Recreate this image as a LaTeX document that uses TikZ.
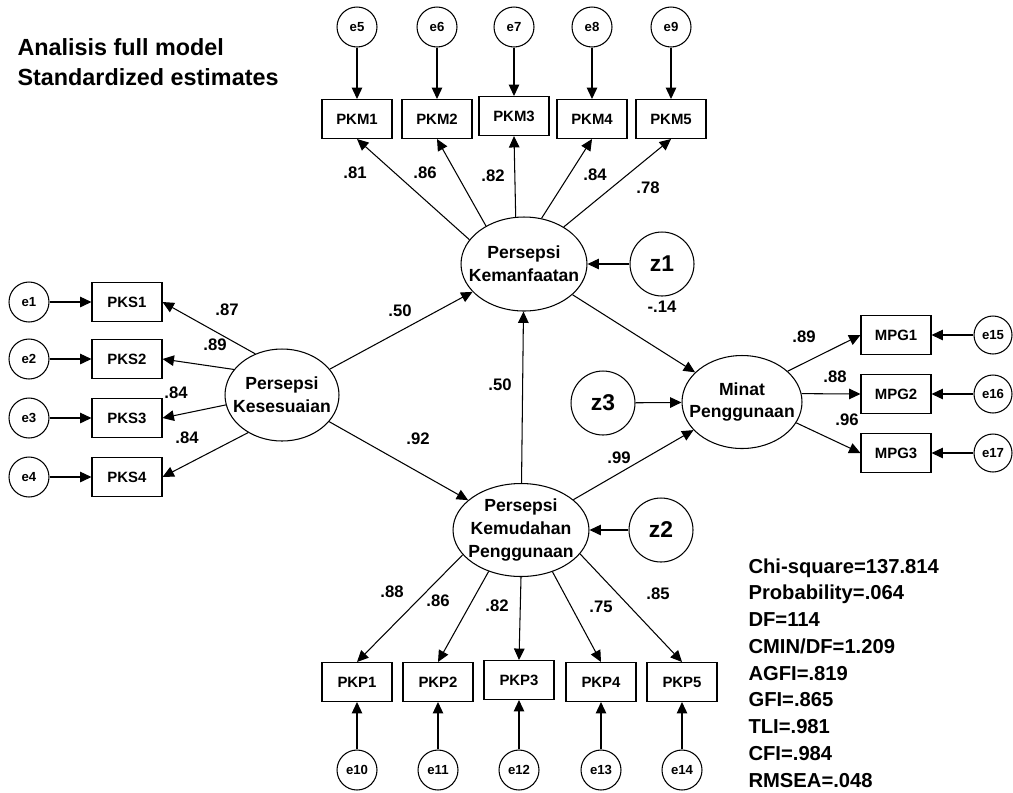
\documentclass[tikz,border=0pt]{standalone}
\usepackage{fontspec}
\setmainfont{Liberation Sans}
\usetikzlibrary{arrows.meta,shapes.geometric}

\begin{document}
\begin{tikzpicture}[x=0.02cm, y=-0.02cm, >={Triangle[length=6.5pt,width=6pt]}, line width=0.6pt,
  obs/.style={draw, minimum width=1.4cm, minimum height=0.78cm, inner sep=0pt, font=\bfseries\fontsize{8.5}{10}\selectfont},
  lat/.style={draw, ellipse, inner sep=0pt},
  lattext/.style={align=center, font=\bfseries\fontsize{10}{13}\selectfont},
  err/.style={draw, circle, minimum size=0.8cm, inner sep=0pt, font=\bfseries\fontsize{7.5}{9}\selectfont},
  dist/.style={draw, circle, minimum size=1.28cm, inner sep=0pt, font=\bfseries\fontsize{13}{15}\selectfont},
  est/.style={inner sep=0pt, font=\bfseries\fontsize{9.5}{11}\selectfont}]

\useasboundingbox (0,0) rectangle (1013,792);

% title
\node[anchor=base west, inner sep=0pt, font=\bfseries\fontsize{13.3}{16}\selectfont] (title1) at (17,55) {Analisis full model};
\node[anchor=base west, inner sep=0pt, font=\bfseries\fontsize{13.3}{16}\selectfont] (title2) at (17,85) {Standardized estimates};

% latent variables
\node[lat, minimum width=2.52cm, minimum height=1.88cm, label={[lattext]center:Persepsi\\Kemanfaatan}] (pkm) at (524,264) {};
\node[lat, minimum width=2.28cm, minimum height=1.84cm, label={[lattext]center:Persepsi\\Kesesuaian}] (pks) at (282,395) {};
\node[lat, minimum width=2.4cm, minimum height=1.86cm, label={[lattext]center:Minat\\Penggunaan}] (mpg) at (742,402) {};
\node[lat, minimum width=2.72cm, minimum height=1.86cm, label={[lattext]center:Persepsi\\Kemudahan\\Penggunaan}] (pkp) at (521,530) {};

% disturbances
\node[dist] (z1) at (662,264) {z1};
\node[dist] (z2) at (661,530) {z2};
\node[dist] (z3) at (603,403) {z3};

% indicators of Persepsi Kemanfaatan
\foreach \i/\x/\y/\a [evaluate=\i as \e using int(\i+4)] in {1/357/119/156, 2/437/119/135, 3/514/116/100, 4/592/119/69, 5/671/119/43} {
  \node[obs] (pkm\i) at (\x,\y) {PKM\i};
  \node[err] (e\e) at (\x,27) {e\e};
  \draw[->] (e\e) -- (pkm\i);
  \draw[->] (pkm.\a) -- (pkm\i.south);
}

% indicators of Persepsi Kesesuaian
\foreach \i/\y/\a in {1/302/123, 2/359/152, 3/418/190, 4/477/228} {
  \node[obs] (pks\i) at (127,\y) {PKS\i};
  \node[err] (e\i) at (29,\y) {e\i};
  \draw[->] (e\i) -- (pks\i);
  \draw[->] (pks.\a) -- (pks\i.east);
}

% indicators of Minat Penggunaan
\foreach \i/\y/\a [evaluate=\i as \e using int(\i+14)] in {1/335/34, 2/394/8, 3/453/339} {
  \node[obs] (mpg\i) at (896,\y) {MPG\i};
  \node[err, minimum size=0.76cm] (e\e) at (993,\y) {e\e};
  \draw[->] (e\e) -- (mpg\i);
  \draw[->] (mpg.\a) -- (mpg\i.west);
}

% indicators of Persepsi Kemudahan Penggunaan
\foreach \i/\x/\y/\a [evaluate=\i as \e using int(\i+9)] in {1/357/682/203, 2/438/682/232, 3/519/680/270, 4/601/682/307, 5/682/682/338} {
  \node[obs] (pkp\i) at (\x,\y) {PKP\i};
  \node[err] (e\e) at (\x,770) {e\e};
  \draw[->] (e\e) -- (pkp\i);
  \draw[->] (pkp.\a) -- (pkp\i.north);
}

% structural paths
\draw[->] (pks) -- (pkm);
\draw[->] (pks) -- (pkp);
\draw[->] (pkp) -- (pkm);
\draw[->] (pkm) -- (mpg);
\draw[->] (pkp) -- (mpg);
\draw[->] (z1) -- (pkm);
\draw[->] (z2) -- (pkp);
\draw[->] (z3) -- (mpg);

% estimates
\foreach \x/\y/\t in {355/173/.81, 425/173/.86, 493/176/.82, 595/175/.84, 648/188/.78,
    227/310/.87, 215/345/.89, 176/393/.84, 187/438/.84,
    400/311/.50, 418/439/.92, 500/385/.50, 662/307/-.14, 619/458/.99,
    804/337/.89, 835/377/.88, 847/420/.96,
    392/592/.88, 438/601/.86, 497/606/.82, 601/607/.75, 658/594/.85}
  \node[est] at (\x,\y) {\t};

% fit indices
\foreach \t [count=\k from 0] in {Chi-square=137.814, Probability=.064, DF=114, CMIN/DF=1.209,
    AGFI=.819, GFI=.865, TLI=.981, CFI=.984, RMSEA=.048}
  \node[anchor=base west, inner sep=0pt, font=\bfseries\fontsize{11.5}{14}\selectfont] (fit\k) at (748,573+26.75*\k) {\t};

\end{tikzpicture}
\end{document}
